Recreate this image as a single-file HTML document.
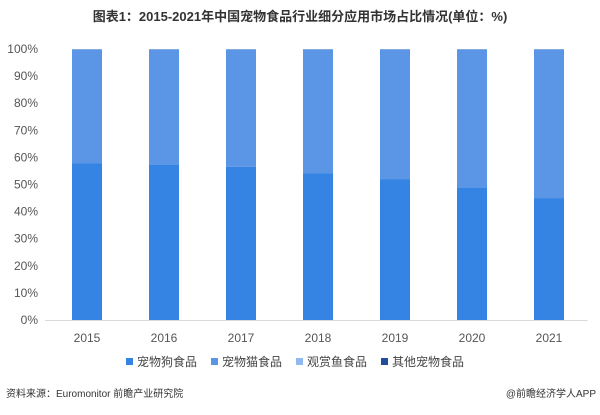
<!DOCTYPE html>
<html><head><meta charset="utf-8"><style>
body{margin:0;background:#fff;width:600px;height:410px;overflow:hidden;font-family:"Liberation Sans","Noto Sans CJK SC",sans-serif}
</style></head><body>
<svg id="c" width="600" height="410">
<text x="300" y="21" text-anchor="middle" font-size="13" font-weight="bold" fill="#333" font-family="Liberation Sans, Noto Sans CJK SC, sans-serif">图表1：2015-2021年中国宠物食品行业细分应用市场占比情况(单位：%)</text>
<g id="plot"></g>
<g id="legend" font-size="12" fill="#444" font-family="Liberation Sans, Noto Sans CJK SC, sans-serif"></g>
<text x="6" y="397" font-size="10" fill="#333" font-family="Liberation Sans, Noto Sans CJK SC, sans-serif">资料来源：Euromonitor 前瞻产业研究院</text>
<text x="596" y="397" text-anchor="end" font-size="10" fill="#333" font-family="Liberation Sans, Noto Sans CJK SC, sans-serif">@前瞻经济学人APP</text>
</svg>
<script>
const categories=["2015","2016","2017","2018","2019","2020","2021"];
const dogFood=[57.9,57.2,56.5,54.2,52.0,49.0,45.0];
const catFood=[41.8,42.5,43.2,45.5,47.7,50.7,54.7];
const fishFood=[0.2,0.2,0.2,0.2,0.2,0.2,0.2];
const otherFood=[0.1,0.1,0.1,0.1,0.1,0.1,0.1];
const seriesNames=["宠物狗食品","宠物猫食品","观赏鱼食品","其他宠物食品"];
const yTicks=[0,10,20,30,40,50,60,70,80,90,100];
const colors=["#3584e4","#5b96e6","#8fbaf0","#1f4e9c"];
const ns="http://www.w3.org/2000/svg";
const x0=48.5,x1=587.5,yb=320,yt=49,bw=30;
const band=(x1-x0)/categories.length;
const xc=i=>x0+band*(i+0.5);
const y=v=>yb-(yb-yt)*v/100;
const plot=document.getElementById('plot');
function mk(tag,attrs,parent){const e=document.createElementNS(ns,tag);for(const k in attrs)e.setAttribute(k,attrs[k]);parent.appendChild(e);return e;}
yTicks.forEach(t=>{const e=mk('text',{x:38,y:y(t)+4,'text-anchor':'end','font-size':12,fill:'#555'},plot);e.textContent=t+'%';

});
const series=[dogFood,catFood,fishFood,otherFood];
categories.forEach((c,i)=>{let acc=0;series.forEach((s,si)=>{const v=s[i];const r=mk('rect',{x:xc(i)-bw/2,y:y(acc+v),width:bw,height:Math.max(0,y(acc)-y(acc+v)),fill:colors[si]},plot);


acc+=v;});
const t=mk('text',{x:xc(i),y:y(0)+22,'text-anchor':'middle','font-size':12,fill:'#555'},plot);t.textContent=c;

});
const ax=mk('line',{x1:45,x2:x1,y1:yb+0.5,y2:yb+0.5,stroke:'#d9d9d9'},plot);


const lg=document.getElementById('legend');
const lx=[126,211,296,381];
seriesNames.forEach((n,i)=>{const g=mk('g',{},lg);


mk('rect',{x:lx[i],y:358,width:7,height:7,fill:colors[i]},g);
const t=mk('text',{x:lx[i]+11,y:366},g);t.textContent=n;});
</script>
</body></html>
